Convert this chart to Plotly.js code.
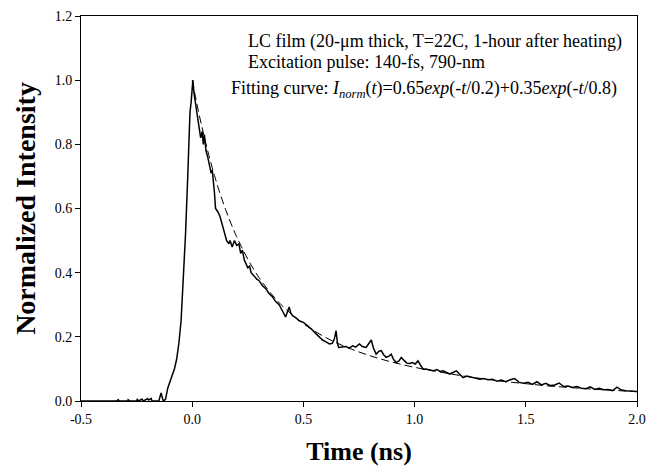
<!DOCTYPE html>
<html>
<head>
<meta charset="utf-8">
<script src="https://cdn.plot.ly/plotly-3.0.1.min.js"></script>
<style>html,body{margin:0;padding:0;background:#fff;}#chart{width:648px;height:473px;}</style>
</head>
<body>
<div id="chart"></div>
<script>
// Measured signal (time in ns, normalized intensity)
const timeMeasured = [-0.5,-0.34,-0.333,-0.326,-0.29,-0.288,-0.28,-0.25,-0.247,-0.24,-0.226,-0.22,-0.2,-0.195,-0.185,-0.18,-0.16,-0.15,-0.14,-0.13,-0.12,-0.11,-0.1,-0.09,-0.08,-0.07,-0.06,-0.05,-0.04,-0.03,-0.02,-0.015,-0.01,-0.005,0,0.003,0.008,0.015,0.022,0.03,0.038,0.045,0.05,0.055,0.062,0.07,0.078,0.085,0.09,0.095,0.1,0.105,0.115,0.125,0.135,0.145,0.155,0.165,0.17,0.18,0.19,0.2,0.21,0.218,0.226,0.234,0.241,0.25,0.258,0.265,0.278,0.29,0.301,0.315,0.331,0.345,0.361,0.375,0.391,0.4,0.41,0.42,0.428,0.436,0.443,0.451,0.465,0.481,0.5,0.519,0.535,0.556,0.57,0.586,0.6,0.617,0.63,0.639,0.647,0.653,0.659,0.675,0.692,0.705,0.722,0.735,0.752,0.765,0.782,0.795,0.805,0.815,0.827,0.84,0.85,0.86,0.872,0.885,0.895,0.905,0.917,0.93,0.94,0.955,0.965,0.977,0.99,1.003,1.015,1.028,1.038,1.05,1.065,1.083,1.1,1.115,1.128,1.145,1.158,1.17,1.188,1.2,1.218,1.235,1.25,1.263,1.28,1.293,1.31,1.33,1.35,1.37,1.39,1.41,1.43,1.45,1.47,1.49,1.51,1.53,1.55,1.57,1.59,1.61,1.63,1.65,1.67,1.69,1.71,1.73,1.75,1.77,1.79,1.81,1.83,1.85,1.87,1.89,1.91,1.93,1.95,1.97,1.99,2.0];
const intensityMeasured = [0,0,0.004,0,0,0.004,0,0,0.005,0,0.006,0,0.007,0.003,0.008,0,0,0,0.025,0,0.005,0.04,0.06,0.08,0.1,0.13,0.18,0.25,0.37,0.52,0.7,0.82,0.9,0.93,0.99,1.0,0.96,0.93,0.9,0.86,0.82,0.84,0.8,0.83,0.78,0.76,0.73,0.71,0.72,0.69,0.65,0.6,0.59,0.575,0.55,0.53,0.5,0.49,0.5,0.48,0.5,0.485,0.49,0.46,0.47,0.44,0.43,0.415,0.42,0.4,0.39,0.38,0.375,0.36,0.35,0.335,0.325,0.31,0.3,0.29,0.275,0.262,0.28,0.293,0.275,0.266,0.26,0.25,0.245,0.235,0.225,0.21,0.2,0.19,0.185,0.178,0.18,0.193,0.219,0.18,0.167,0.168,0.17,0.165,0.172,0.168,0.178,0.17,0.167,0.18,0.19,0.165,0.146,0.155,0.157,0.145,0.136,0.14,0.146,0.13,0.12,0.125,0.136,0.125,0.118,0.117,0.12,0.115,0.125,0.11,0.099,0.1,0.097,0.094,0.098,0.092,0.094,0.088,0.084,0.088,0.094,0.085,0.073,0.078,0.075,0.073,0.07,0.068,0.07,0.066,0.068,0.062,0.065,0.06,0.066,0.07,0.058,0.055,0.058,0.052,0.06,0.05,0.055,0.048,0.05,0.056,0.045,0.047,0.042,0.045,0.04,0.038,0.044,0.036,0.04,0.035,0.036,0.032,0.043,0.034,0.032,0.031,0.032,0.03];

// Fitting curve, values
const timeFit = [0,0.025,0.05,0.075,0.1,0.125,0.15,0.175,0.2,0.25,0.3,0.35,0.4,0.5,0.6,0.7,0.8,0.9,1.0,1.1,1.2,1.3,1.4,1.5,1.6,1.7,1.8,1.9,2.0];
const intensityFit = [1.0,0.913,0.835,0.766,0.703,0.647,0.597,0.552,0.512,0.442,0.385,0.339,0.3,0.241,0.198,0.166,0.141,0.121,0.105,0.092,0.08,0.07,0.061,0.054,0.047,0.042,0.037,0.033,0.029];

const xTicks = [-0.5,0.0,0.5,1.0,1.5,2.0];
const yTicks = [0.0,0.2,0.4,0.6,0.8,1.0,1.2];

const serif = "Liberation Serif, Times New Roman, serif";

const traces = [
  {x: timeFit, y: intensityFit, type: 'scatter', mode: 'lines', line: {color: '#000', width: 1, dash: '8px,4px', shape: 'spline'}, hoverinfo: 'skip'},
  {x: timeMeasured, y: intensityMeasured, type: 'scatter', mode: 'lines', line: {color: '#000', width: 1.5}}
];

const layout = {
  width: 648, height: 473,
  margin: {l: 81, r: 11, t: 16, b: 72},
  paper_bgcolor: '#fff', plot_bgcolor: '#fff',
  showlegend: false,
  font: {family: serif, color: '#000', size: 14},
  xaxis: {
    range: [-0.5, 2.0], tickvals: xTicks, ticktext: xTicks.map(v => v.toFixed(1)),
    ticks: 'outside', ticklen: 5, tickcolor: '#000', tickwidth: 1,
    showline: true, linecolor: '#000', linewidth: 1, mirror: true,
    showgrid: false, zeroline: false,
    tickfont: {family: serif, size: 14},
    title: {text: '<b>Time (ns)</b>', font: {family: serif, size: 26}, standoff: 16}
  },
  yaxis: {
    range: [0, 1.2], tickvals: yTicks, ticktext: yTicks.map(v => v.toFixed(1)),
    ticks: 'outside', ticklen: 5, tickcolor: '#000', tickwidth: 1,
    showline: true, linecolor: '#000', linewidth: 1, mirror: true,
    showgrid: false, zeroline: false,
    tickfont: {family: serif, size: 14},
    title: {text: '<b>Normalized Intensity</b>', font: {family: serif, size: 28}, standoff: 10}
  },
  annotations: [
    {xref: 'paper', yref: 'paper', x: 0.297, y: 0.933, xanchor: 'left', yanchor: 'middle', showarrow: false,
     text: 'LC film (20-μm thick, T=22C, 1-hour after heating)', font: {family: serif, size: 18}},
    {xref: 'paper', yref: 'paper', x: 0.297, y: 0.88, xanchor: 'left', yanchor: 'middle', showarrow: false,
     text: 'Excitation pulse: 140-fs, 790-nm', font: {family: serif, size: 18}},
    {xref: 'paper', yref: 'paper', x: 0.266, y: 0.809, xanchor: 'left', yanchor: 'middle', showarrow: false,
     text: 'Fitting curve: <i>I</i><sub><i>norm</i></sub>(<i>t</i>)=0.65<i>exp</i>(-<i>t</i>/0.2)+0.35<i>exp</i>(-<i>t</i>/0.8)', font: {family: serif, size: 18}}
  ]
};

Plotly.newPlot('chart', traces, layout, {displayModeBar: false, staticPlot: true});
</script>
</body>
</html>
